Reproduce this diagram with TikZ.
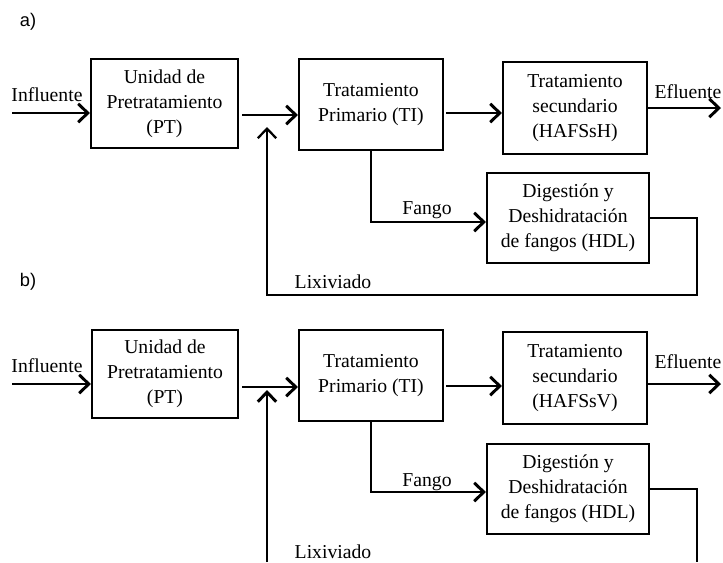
\documentclass[tikz,border=0pt]{standalone}
\usepackage{fontspec}
\setmainfont{Liberation Serif}
\newfontfamily\tagfont{Liberation Sans}
\usetikzlibrary{arrows.meta}

\begin{document}
\begin{tikzpicture}[x=0.025cm,y=-0.025cm,
  box/.style={draw,line width=1.5pt,align=center,inner sep=0pt,font=\fontsize{14}{17.8}\selectfont},
  lbl/.style={draw=none,inner sep=0pt,font=\fontsize{14}{17}\selectfont},
  tag/.style={draw=none,inner sep=0pt,font=\tagfont\fontsize{13}{15}\selectfont},
  arr/.style={line width=2.1pt,-{Straight Barb[length=2.4mm,width=4.6mm]}},
  lin/.style={line width=1.5pt}]
  \useasboundingbox (0,0) rectangle (723,562);

  % a)
  \node[tag] (taga) at (28,22) {a)};
  \node[box,minimum width=3.675cm,minimum height=2.225cm] (pta) at (164.5,103.5) {Unidad de\\Pretratamiento\\(PT)};
  \node[box,minimum width=3.6cm,minimum height=2.275cm] (tia) at (371,104.5) {Tratamiento\\Primario (TI)};
  \node[box,minimum width=3.6cm,minimum height=2.3cm] (hsa) at (575,108) {Tratamiento\\secundario\\(HAFSsH)};
  \node[box,minimum width=4.05cm,minimum height=2.25cm] (hdla) at (568,218) {Digesti\'on y\\Deshidrataci\'on\\de fangos (HDL)};

  \coordinate (ina) at (12,113);
  \coordinate (pa) at (242,115);
  \coordinate (sa) at (446,113);
  \coordinate (ea) at (721,108);
  \coordinate (fa) at (371,222);
  \coordinate (ra) at (697,295);
  \coordinate (ja) at (267,127);

  \node[lbl] (infa) at (47,95) {Influente};
  \node[lbl] (efa) at (688,92) {Efluente};
  \node[lbl] (fga) at (427,210) {Fango};
  \node[lbl] (lxa) at (333,282) {Lixiviado};

  \draw[arr] (ina) -- (ina -| pta.west);
  \draw[arr] (pa) -- (pa -| tia.west);
  \draw[arr] (sa) -- (sa -| hsa.west);
  \draw[arr] (ea -| hsa.east) -- (ea);
  \draw[arr] (tia.south) -- (fa) -- (fa -| hdla.west);
  \draw[arr,line width=1.6pt] (hdla.east) -| (ra) -| (ja);

  % b)
  \node[tag] (tagb) at (28,282) {b)};
  \node[box,minimum width=3.65cm,minimum height=2.2cm] (ptb) at (165,374) {Unidad de\\Pretratamiento\\(PT)};
  \node[box,minimum width=3.6cm,minimum height=2.275cm] (tib) at (371,375.5) {Tratamiento\\Primario (TI)};
  \node[box,minimum width=3.6cm,minimum height=2.3cm] (hsb) at (575,378) {Tratamiento\\secundario\\(HAFSsV)};
  \node[box,minimum width=4.05cm,minimum height=2.25cm] (hdlb) at (568,489) {Digesti\'on y\\Deshidrataci\'on\\de fangos (HDL)};

  \coordinate (inb) at (12,384);
  \coordinate (pb) at (242,387);
  \coordinate (sb) at (446,386);
  \coordinate (eb) at (721,384);
  \coordinate (fb) at (371,492);
  \coordinate (rb) at (697,562);
  \coordinate (lb) at (267,562);
  \coordinate (jb) at (267,390);

  \node[lbl] (infb) at (47,366) {Influente};
  \node[lbl] (efb) at (688,362) {Efluente};
  \node[lbl] (fgb) at (427,482) {Fango};
  \node[lbl] (lxb) at (333,552) {Lixiviado};

  \draw[arr] (inb) -- (inb -| ptb.west);
  \draw[arr] (pb) -- (pb -| tib.west);
  \draw[arr] (sb) -- (sb -| hsb.west);
  \draw[arr] (eb -| hsb.east) -- (eb);
  \draw[arr] (tib.south) -- (fb) -- (fb -| hdlb.west);
  \draw[lin] (hdlb.east) -| (rb);
  \draw[arr] (lb) -- (jb);
\end{tikzpicture}
\end{document}
